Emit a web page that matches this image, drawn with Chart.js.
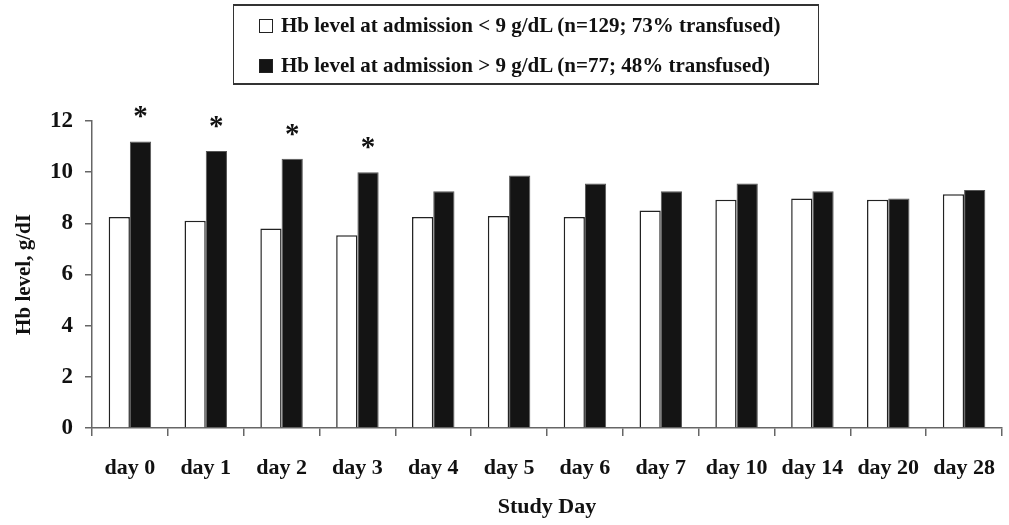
<!DOCTYPE html>
<html>
<head>
<meta charset="utf-8">
<script src="https://cdn.jsdelivr.net/npm/chart.js@4/dist/chart.umd.min.js"></script>
<style>
  body { margin: 0; background: #fff; }
  #wrap { position: relative; width: 1009px; height: 525px; }
  #legend {
    position: absolute; left: 233px; top: 4px; width: 584px; height: 77px;
    border: 1px solid #333; border-top-width: 2px; border-bottom-width: 2px;
    font: bold 21px "Liberation Serif", serif; color: #111;
  }
  .row { position: absolute; left: 25px; height: 24px; line-height: 24px; white-space: nowrap; }
  .box { display: inline-block; width: 12px; height: 12px; border: 1px solid #222; margin-right: 8px; vertical-align: -1px; }
</style>
</head>
<body>
<div id="wrap">
  <canvas id="chart" width="1009" height="525"></canvas>
  <div id="legend"></div>
</div>
<script>
const days = ['day 0', 'day 1', 'day 2', 'day 3', 'day 4', 'day 5', 'day 6', 'day 7', 'day 10', 'day 14', 'day 20', 'day 28'];
const lowHb = [8.25, 8.1, 7.8, 7.53, 8.25, 8.29, 8.25, 8.5, 8.92, 8.97, 8.92, 9.14];
const highHb = [11.2, 10.83, 10.52, 10.0, 9.25, 9.87, 9.56, 9.25, 9.56, 9.25, 8.97, 9.3];
const significant = ['*', '*', '*', '*', '', '', '', '', '', '', '', ''];
const seriesNames = [
    'Hb level at admission < 9 g/dL (n=129; 73% transfused)',
    'Hb level at admission > 9 g/dL (n=77; 48% transfused)'
];

const serif = '"Liberation Serif", "Times New Roman", serif';

// puts the asterisks above the black bars
const starPlugin = {
    id: 'stars',
    afterDatasetsDraw(chart) {
        const ctx = chart.ctx;
        const meta = chart.getDatasetMeta(1);
        ctx.save();
        ctx.font = 'bold 29px ' + serif;
        ctx.fillStyle = '#111';
        ctx.textAlign = 'center';
        ctx.textBaseline = 'alphabetic';
        meta.data.forEach((bar, i) => {
            if (!significant[i]) return;
            const m = ctx.measureText(significant[i]);
            const center = bar.y - 29;
            ctx.fillText(significant[i], bar.x, center + (m.actualBoundingBoxAscent - m.actualBoundingBoxDescent) / 2);
        });
        ctx.restore();
    }
};

const ctx = document.getElementById('chart').getContext('2d');
const chart = new Chart(ctx, {
    type: 'bar',
    data: {
        labels: days,
        datasets: [{
            label: seriesNames[0],
            data: lowHb,
            backgroundColor: '#ffffff',
            borderColor: '#222',
            borderWidth: 1.5
        }, {
            label: seriesNames[1],
            data: highHb,
            backgroundColor: '#141414',
            borderColor: '#555',
            borderWidth: 1
        }]
    },
    options: {
        responsive: false,
        animation: false,
        categoryPercentage: 0.56,
        barPercentage: 1.0,
        layout: { padding: { top: 121, right: 7, left: 0, bottom: 0 } },
        plugins: {
            legend: { display: false },
            tooltip: { enabled: false }
        },
        scales: {
            x: {
                afterFit: (scale) => { scale.height = 97; scale.paddingRight = 0; scale.paddingLeft = 0; },
                grid: { offset: true, drawOnChartArea: false, tickLength: 8, color: '#666', lineWidth: 1.5 },
                border: { color: '#666', width: 1.5 },
                ticks: { color: '#111', padding: 19, font: { family: serif, size: 22, weight: 'bold' } },
                title: {
                    display: true, text: 'Study Day', color: '#111',
                    padding: { top: 0, bottom: 4 },
                    font: { family: serif, size: 22, weight: 'bold' }
                }
            },
            y: {
                min: 0,
                max: 12,
                afterFit: (scale) => { scale.width = 92; },
                grid: { drawOnChartArea: false, tickLength: 7, color: '#666', lineWidth: 1.5 },
                border: { color: '#666', width: 1.5 },
                ticks: { stepSize: 2, color: '#111', padding: 12, font: { family: serif, size: 23, weight: 'bold' } },
                title: {
                    display: true, text: 'Hb level, g/dI', color: '#111',
                    padding: { top: 12, bottom: 0 },
                    font: { family: serif, size: 21, weight: 'bold' }
                }
            }
        }
    },
    plugins: [starPlugin]
});

// legend box drawn from the chart's datasets
const legend = document.getElementById('legend');
chart.data.datasets.forEach((ds, i) => {
    const row = document.createElement('div');
    row.className = 'row';
    row.style.top = (i === 0 ? 7 : 47) + 'px';
    const box = document.createElement('span');
    box.className = 'box';
    box.style.background = ds.backgroundColor;
    row.appendChild(box);
    row.appendChild(document.createTextNode(ds.label));
    legend.appendChild(row);
});
</script>
</body>
</html>
